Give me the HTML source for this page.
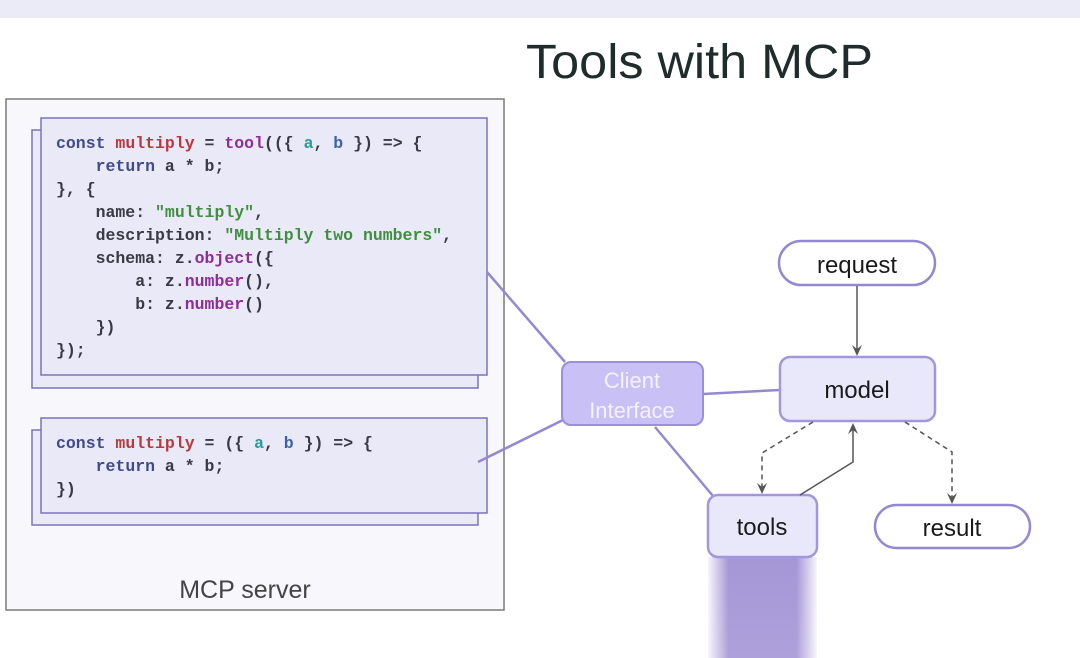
<!DOCTYPE html>
<html><head><meta charset="utf-8"><style>
html,body{margin:0;padding:0;background:#fff;}
svg{display:block}
.c{font-family:"Liberation Mono",monospace;font-size:16.5px;font-weight:bold;fill:#3a3a44;white-space:pre}
.k{fill:#404a8c}.r{fill:#b8383c}.f{fill:#8e2c9c}.a{fill:#2a9a9a}.b{fill:#3a62b0}.s{fill:#3f8f3f}
.l{font-family:"Liberation Sans",sans-serif;}
</style></head><body>
<svg width="1080" height="658" viewBox="0 0 1080 658" xmlns="http://www.w3.org/2000/svg">
<defs>
<linearGradient id="gv" x1="0" y1="0" x2="0" y2="1"><stop offset="0" stop-color="#a596d6"/><stop offset="1" stop-color="#a596d6" stop-opacity="0.9"/></linearGradient>
<linearGradient id="gh" x1="0" y1="0" x2="1" y2="0"><stop offset="0" stop-color="#fff" stop-opacity="1"/><stop offset="0.2" stop-color="#fff" stop-opacity="0"/><stop offset="0.8" stop-color="#fff" stop-opacity="0"/><stop offset="1" stop-color="#fff" stop-opacity="1"/></linearGradient>
</defs>
<rect x="0" y="0" width="1080" height="18" fill="#ebebf8"/>
<text x="526" y="78" class="l" font-size="48" fill="#1f2c2c" textLength="347" lengthAdjust="spacingAndGlyphs">Tools with MCP</text>

<rect x="6" y="99" width="498" height="511" fill="#f7f7fc" stroke="#7a7a7a" stroke-width="1.5"/>
<rect x="32" y="130" width="446" height="258" fill="#e9e9f8" stroke="#7d72bc" stroke-width="1.5"/>
<rect x="41" y="118" width="446" height="257" fill="#e9e9f8" stroke="#7d72bc" stroke-width="1.5"/>
<rect x="32" y="430" width="446" height="95" fill="#e9e9f8" stroke="#7d72bc" stroke-width="1.5"/>
<rect x="41" y="418" width="446" height="95" fill="#e9e9f8" stroke="#7d72bc" stroke-width="1.5"/>

<text class="c" x="56" y="148"><tspan class="k">const</tspan> <tspan class="r">multiply</tspan> = <tspan class="f">tool</tspan>(({ <tspan class="a">a</tspan>, <tspan class="b">b</tspan> }) =&gt; {</text>
<text class="c" x="56" y="171">    <tspan class="k">return</tspan> a * b;</text>
<text class="c" x="56" y="194">}, {</text>
<text class="c" x="56" y="217">    name: <tspan class="s">"multiply"</tspan>,</text>
<text class="c" x="56" y="240">    description: <tspan class="s">"Multiply two numbers"</tspan>,</text>
<text class="c" x="56" y="263">    schema: z.<tspan class="f">object</tspan>({</text>
<text class="c" x="56" y="286">        a: z.<tspan class="f">number</tspan>(),</text>
<text class="c" x="56" y="309">        b: z.<tspan class="f">number</tspan>()</text>
<text class="c" x="56" y="332">    })</text>
<text class="c" x="56" y="355">});</text>

<text class="c" x="56" y="448"><tspan class="k">const</tspan> <tspan class="r">multiply</tspan> = ({ <tspan class="a">a</tspan>, <tspan class="b">b</tspan> }) =&gt; {</text>
<text class="c" x="56" y="471">    <tspan class="k">return</tspan> a * b;</text>
<text class="c" x="56" y="494">})</text>

<text x="245" y="598" class="l" font-size="25" fill="#444" text-anchor="middle">MCP server</text>

<g stroke="#9488d0" stroke-width="2.5" fill="none">
<line x1="487" y1="272" x2="565" y2="362"/>
<line x1="478" y1="462" x2="563" y2="420"/>
<line x1="703" y1="394" x2="780" y2="390"/>
<line x1="655" y1="427" x2="713" y2="496"/>
</g>

<rect x="708" y="557" width="109" height="101" fill="url(#gv)"/>
<rect x="706" y="557" width="113" height="101" fill="url(#gh)"/>

<rect x="562" y="362" width="141" height="63" rx="9" fill="#c9c0f6" stroke="#9a8fd8" stroke-width="2"/>
<text x="632" y="388" class="l" font-size="22" fill="#f4f2ff" text-anchor="middle">Client</text>
<text x="632" y="418" class="l" font-size="22" fill="#f4f2ff" text-anchor="middle">Interface</text>

<rect x="779" y="241" width="156" height="44" rx="22" fill="#fff" stroke="#9488d0" stroke-width="2.5"/>
<text x="857" y="273" class="l" font-size="24" fill="#1a1a1a" text-anchor="middle">request</text>
<rect x="780" y="357" width="155" height="64" rx="10" fill="#e9e8fb" stroke="#a396dc" stroke-width="2.5"/>
<text x="857" y="398" class="l" font-size="24" fill="#1a1a1a" text-anchor="middle">model</text>
<rect x="708" y="495" width="109" height="62" rx="10" fill="#e9e8fb" stroke="#a396dc" stroke-width="2.5"/>
<text x="762" y="535" class="l" font-size="24" fill="#1a1a1a" text-anchor="middle">tools</text>
<rect x="875" y="505" width="155" height="43" rx="21.5" fill="#fff" stroke="#9488d0" stroke-width="2.5"/>
<text x="952" y="536" class="l" font-size="24" fill="#1a1a1a" text-anchor="middle">result</text>

<g stroke="#555" stroke-width="1.5" fill="none">
<line x1="857" y1="286" x2="857" y2="350"/>
<polyline points="813,422 762,453 762,488" stroke-dasharray="5,4"/>
<polyline points="800,495 853,462 853,430"/>
<polyline points="905,422 952,452 952,498" stroke-dasharray="5,4"/>
</g>
<g fill="#555">
<path d="M852,345 L857,356 L862,345 L857,349 Z"/>
<path d="M757,483 L762,494 L767,483 L762,487 Z"/>
<path d="M848,434 L853,423 L858,434 L853,430 Z"/>
<path d="M947,493 L952,504 L957,493 L952,497 Z"/>
</g>
</svg>
</body></html>
